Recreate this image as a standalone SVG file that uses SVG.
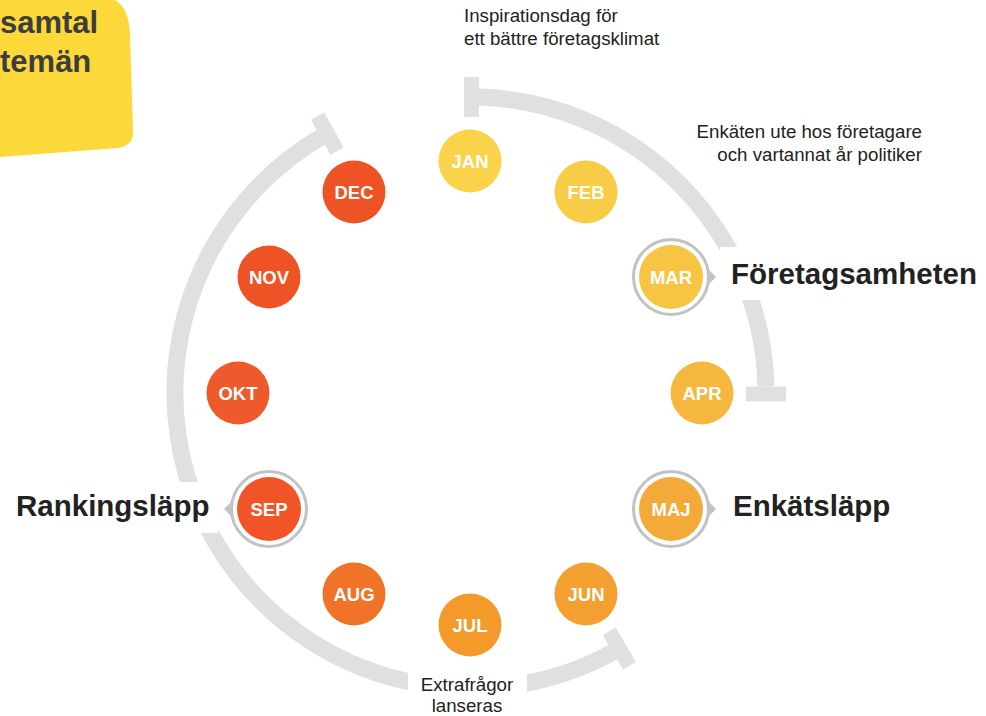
<svg xmlns="http://www.w3.org/2000/svg" width="986" height="716" viewBox="0 0 986 716">
<style>
.band{fill:none;stroke:#e0e0e0;stroke-width:17;stroke-linecap:butt}
.tbar{fill:#e0e0e0}
.gap{fill:#ffffff}
.m{font-family:"Liberation Sans",Arial,sans-serif;font-weight:bold;font-size:18.5px;fill:#ffffff;text-anchor:middle}
.ring{fill:#ffffff;stroke:#c2c2c2;stroke-width:3}
.ptr{fill:#c2c2c2}
.big{font-family:"Liberation Sans",Arial,sans-serif;font-weight:bold;font-size:29.5px;fill:#222222}
.small{font-family:"Liberation Sans",Arial,sans-serif;font-size:18.7px;fill:#222222}
.blob{font-family:"Liberation Sans",Arial,sans-serif;font-weight:bold;font-size:31px;fill:#3d3d3d}
</style>
<rect width="986" height="716" fill="#ffffff"/>
<g id="note-blob">
<path d="M0,0 L115,0 C125,5 130,20 130,35 L133,130 C134,142 128,146 118,148 L0,157 Z" fill="#fdd83a"/>
<text class="blob" x="0" y="33">samtal</text>
<text class="blob" x="0" y="72">temän</text>
</g>
<g id="connectors">
<path class="band" d="M478.8,97.1 A296,296 0 0 1 765.9,386.3"/>
<path class="band" d="M613.1,652.1 A296,296 0 0 1 321.1,137.2"/>
<g transform="translate(470,393)">
<rect class="tbar" x="276" y="-7.5" width="40" height="15" transform="rotate(-89.7)"/>
<rect class="tbar" x="276" y="-7.5" width="40" height="15" transform="rotate(0.2)"/>
<rect class="tbar" x="276" y="-7.5" width="40" height="15" transform="rotate(59.7)"/>
<rect class="tbar" x="276" y="-7.5" width="40" height="15" transform="rotate(241.2)"/>
</g>
<rect class="gap" x="720" y="247" width="70" height="53"/>
<rect class="gap" x="160" y="482" width="58" height="51"/>
<rect class="gap" x="408" y="664" width="119" height="52"/>
</g>
<g id="jan"><circle cx="470" cy="161" r="31.5" fill="#fad34a"/><text class="m" x="470" y="167.5">JAN</text></g>
<g id="feb"><circle cx="586" cy="192" r="31.5" fill="#f8cc46"/><text class="m" x="586" y="198.5">FEB</text></g>
<g id="mar">
<circle class="ring" cx="671" cy="277" r="37.5"/>
<path class="ptr" d="M708,269 L716,277 L708,285 Z"/>
<circle cx="671" cy="277" r="32" fill="#f7c443"/><text class="m" x="671" y="283.5">MAR</text>
</g>
<g id="apr"><circle cx="702" cy="393" r="31.5" fill="#f6b73f"/><text class="m" x="702" y="399.5">APR</text></g>
<g id="maj">
<circle class="ring" cx="671" cy="509" r="37.5"/>
<path class="ptr" d="M708,501 L716,509 L708,517 Z"/>
<circle cx="671" cy="509" r="32" fill="#f4aa38"/><text class="m" x="671" y="515.5">MAJ</text>
</g>
<g id="jun"><circle cx="586" cy="594" r="31.5" fill="#f3a030"/><text class="m" x="586" y="600.5">JUN</text></g>
<g id="jul"><circle cx="470" cy="625" r="31.5" fill="#f39a2a"/><text class="m" x="470" y="631.5">JUL</text></g>
<g id="aug"><circle cx="354" cy="594" r="31.5" fill="#f07327"/><text class="m" x="354" y="600.5">AUG</text></g>
<g id="sep">
<circle class="ring" cx="269" cy="509" r="37.5"/>
<path class="ptr" d="M232,501 L224,509 L232,517 Z"/>
<circle cx="269" cy="509" r="32" fill="#f05427"/><text class="m" x="269" y="515.5">SEP</text>
</g>
<g id="okt"><circle cx="238" cy="393" r="31.5" fill="#ee5a2c"/><text class="m" x="238" y="399.5">OKT</text></g>
<g id="nov"><circle cx="269" cy="277" r="31.5" fill="#ee5325"/><text class="m" x="269" y="283.5">NOV</text></g>
<g id="dec"><circle cx="354" cy="192" r="31.5" fill="#ee5326"/><text class="m" x="354" y="198.5">DEC</text></g>
<g id="labels">
<text class="big" x="731" y="284">Företagsamheten</text>
<text class="big" x="733" y="516">Enkätsläpp</text>
<text class="big" x="16" y="516">Rankingsläpp</text>
<text class="small" x="464" y="22">Inspirationsdag för</text>
<text class="small" x="464" y="45">ett bättre företagsklimat</text>
<text class="small" x="922" y="138" text-anchor="end">Enkäten ute hos företagare</text>
<text class="small" x="922" y="161" text-anchor="end">och vartannat år politiker</text>
<text class="small" x="467" y="691" text-anchor="middle">Extrafrågor</text>
<text class="small" x="467" y="712" text-anchor="middle">lanseras</text>
</g>
</svg>
